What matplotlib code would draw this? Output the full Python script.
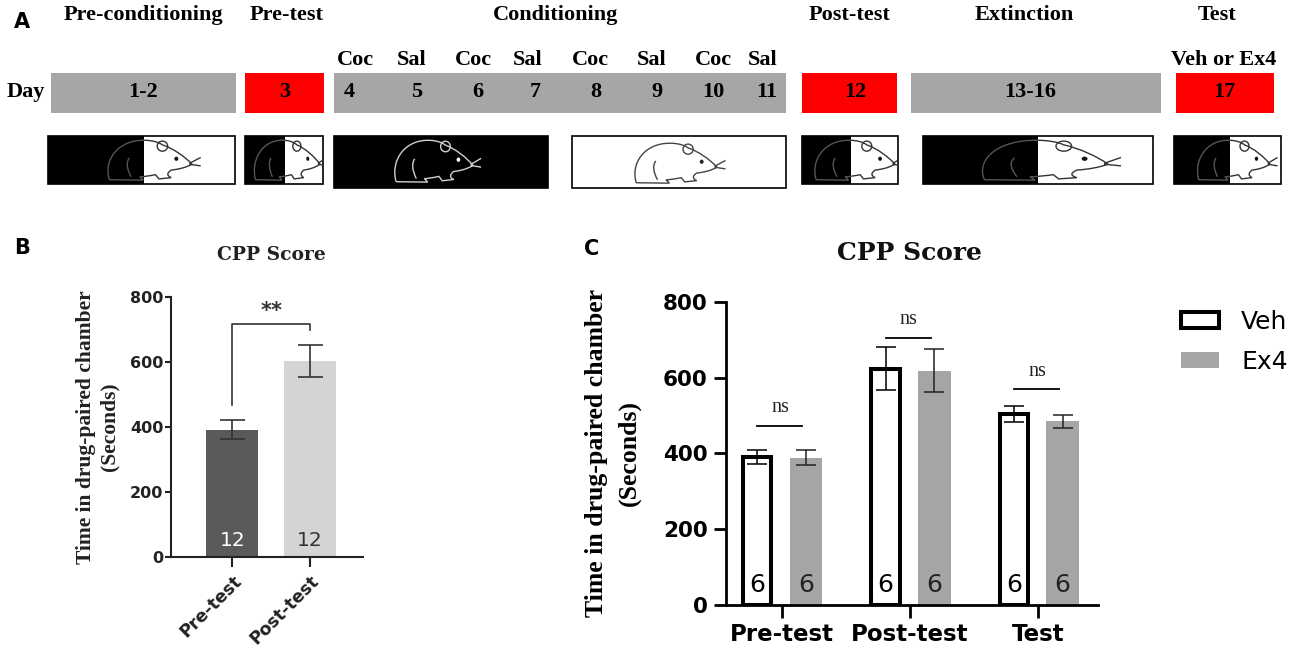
import matplotlib
matplotlib.use('Agg')
import matplotlib.pyplot as plt
from matplotlib.patches import Rectangle, Ellipse, PathPatch, Patch
from matplotlib.path import Path
import numpy as np

# ---------------- Data ----------------
# Panel B
b_categories = ['Pre-test', 'Post-test']
b_means = [392, 603]
b_sems = [29, 50]
b_n = ['12', '12']
b_sig = '**'

# Panel C
c_categories = ['Pre-test', 'Post-test', 'Test']
c_groups = ['Veh', 'Ex4']
c_veh_means = [391, 623, 503]
c_veh_sems = [19, 57, 21]
c_ex4_means = [389, 618, 485]
c_ex4_sems = [20, 57, 17]
c_veh_n = ['6', '6', '6']
c_ex4_n = ['6', '6', '6']
c_sig = ['ns', 'ns', 'ns']
c_sig_level = [473, 705, 569]

# Panel A timeline
phase_names = ['Pre-conditioning', 'Pre-test', 'Conditioning', 'Post-test', 'Extinction', 'Test']
phase_days = ['1-2', '3', '', '12', '13-16', '17']
cond_days = ['4', '5', '6', '7', '8', '9', '10', '11']
cond_treat = ['Coc', 'Sal', 'Coc', 'Sal', 'Coc', 'Sal', 'Coc', 'Sal']
test_treat = 'Veh or Ex4'

# ---------------- Layout (pixels) ----------------
W, H = 1300, 652
fig = plt.figure(figsize=(W / 100, H / 100), dpi=100)
fig.patch.set_facecolor('white')

def fx(x):
    return x / W

def fy(y):
    return 1 - y / H

SERIF = 'Liberation Serif'
SANS = 'DejaVu Sans'
GRAY = '#a6a6a6'
RED = '#ff0000'

# ---------------- Panel A ----------------
axa = fig.add_axes([0, 1 - 200 / H, 1, 200 / H])
axa.set_xlim(0, W)
axa.set_ylim(200, 0)
axa.axis('off')

title_x = [143, 287, 556, 850, 1024, 1217]
bar_spans = [(51, 236), (245, 324), (334, 786), (802, 897), (911, 1161), (1176, 1274)]
bar_colors = [GRAY, RED, GRAY, RED, GRAY, RED]
day_x = [143, 284.5, None, 855, 1030, 1224]
cond_day_x = [349, 417, 478, 535, 596, 657, 713, 767]
cond_treat_x = [355, 412, 473, 528, 590, 652, 713, 763]

afont = dict(family=SERIF, fontweight='bold', fontsize=16, color='black')
for name, x in zip(phase_names, title_x):
    axa.text(x, 15, name, ha='center', va='center', **afont)
for (x0, x1), col in zip(bar_spans, bar_colors):
    axa.add_patch(Rectangle((x0, 73), x1 - x0, 40, facecolor=col, edgecolor='none'))
for lab, x in zip(phase_days, day_x):
    if x is not None and lab:
        axa.text(x, 92, lab, ha='center', va='center', **afont)
for lab, x in zip(cond_days, cond_day_x):
    axa.text(x, 92, lab, ha='center', va='center', **afont)
for lab, x in zip(cond_treat, cond_treat_x):
    axa.text(x, 60, lab, ha='center', va='center', **afont)
axa.text(1224, 60, test_treat, ha='center', va='center', **afont)
axa.text(26, 92, 'Day', ha='center', va='center', **afont)

# mouse sketch (normalised coordinates, v downward)
def mouse_paths():
    P = Path
    body = [((0.05, 0.97), P.MOVETO),
            ((-0.02, 0.5), P.CURVE4), ((0.15, 0.02), P.CURVE4), ((0.45, 0.03), P.CURVE4),
            ((0.55, 0.03), P.CURVE4), ((0.62, 0.08), P.CURVE4), ((0.66, 0.14), P.CURVE4),
            ((0.78, 0.22), P.CURVE4), ((0.92, 0.42), P.CURVE4), ((1.0, 0.60), P.CURVE4),
            ((0.93, 0.68), P.CURVE4), ((0.85, 0.72), P.CURVE4), ((0.76, 0.74), P.CURVE4),
            ((0.72, 0.80), P.CURVE4), ((0.70, 0.86), P.CURVE4), ((0.76, 0.92), P.CURVE4),
            ((0.62, 0.95), P.LINETO), ((0.58, 0.85), P.LINETO),
            ((0.50, 0.88), P.CURVE4), ((0.44, 0.90), P.CURVE4), ((0.40, 0.90), P.CURVE4),
            ((0.44, 0.98), P.LINETO), ((0.05, 0.97), P.LINETO)]
    leg = [((0.28, 0.45), P.MOVETO), ((0.22, 0.6), P.CURVE3), ((0.30, 0.9), P.CURVE3)]
    whisk = [((0.97, 0.58), P.MOVETO), ((1.10, 0.44), P.LINETO),
             ((0.97, 0.60), P.MOVETO), ((1.10, 0.64), P.LINETO)]
    return [body, leg, whisk]

def draw_mouse(ax, x0, x1, y0, y1, color, eye_color, clip=None):
    def tr(u, v):
        return (x0 + u * (x1 - x0), y0 + v * (y1 - y0))
    arts = []
    for segs in mouse_paths():
        verts = [tr(u, v) for (u, v), c in segs]
        codes = [c for _, c in segs]
        arts.append(PathPatch(Path(verts, codes), facecolor='none', edgecolor=color, lw=1.0))
    ex, ey = tr(0.66, 0.17)
    arts.append(Ellipse((ex, ey), 0.12 * (x1 - x0), 0.24 * (y1 - y0), facecolor='none', edgecolor=color, lw=1.0))
    ex, ey = tr(0.82, 0.47)
    arts.append(Ellipse((ex, ey), 0.045 * (x1 - x0), 0.1 * (y1 - y0), facecolor=eye_color, edgecolor='none'))
    for a in arts:
        ax.add_patch(a)
        if clip is not None:
            a.set_clip_path(clip)

boxes = [(48, 235, 136, 184, 144, 'split', 105, 192),
         (245, 323, 136, 184, 285, 'split', 252, 320),
         (334, 548, 136, 188, None, 'black', 392, 473),
         (572, 786, 136, 188, None, 'white', 632, 717),
         (802, 898, 136, 184, 851, 'split', 812, 895),
         (923, 1153, 136, 184, 1038, 'split', 978, 1108),
         (1174, 1281, 136, 184, 1230, 'split', 1195, 1270)]
for x0, x1, y0, y1, xs, kind, m0, m1 in boxes:
    if kind == 'black':
        axa.add_patch(Rectangle((x0, y0), x1 - x0, y1 - y0, facecolor='black', edgecolor='black', lw=1.2))
        draw_mouse(axa, m0, m1, y0 + 3, y1 - 5, '#d0d0d0', 'white')
    elif kind == 'white':
        axa.add_patch(Rectangle((x0, y0), x1 - x0, y1 - y0, facecolor='white', edgecolor='black', lw=1.2))
        draw_mouse(axa, m0, m1, y0 + 6, y1 - 4, '#444444', '#222222')
    else:
        axa.add_patch(Rectangle((x0, y0), xs - x0, y1 - y0, facecolor='black', edgecolor='none'))
        axa.add_patch(Rectangle((x0, y0), x1 - x0, y1 - y0, facecolor='none', edgecolor='black', lw=1.2))
        cl = Rectangle((x0, y0), xs - x0, y1 - y0, transform=axa.transData, facecolor='none')
        cr = Rectangle((xs, y0), x1 - xs, y1 - y0, transform=axa.transData, facecolor='none')
        draw_mouse(axa, m0, m1, y0 + 3, y1 - 3, '#555555', '#555555', clip=cl)
        draw_mouse(axa, m0, m1, y0 + 3, y1 - 3, '#333333', '#111111', clip=cr)

# ---------------- Panel B ----------------
axb = fig.add_axes([fx(171), fy(557), (363 - 171) / W, (557 - 297) / H])
xb = np.arange(len(b_categories))
axb.bar(xb, b_means, width=0.67, color=['#5a5a5a', '#d4d4d4'], edgecolor='none', zorder=2)
axb.errorbar(xb, b_means, yerr=b_sems, fmt='none', ecolor='#333333', elinewidth=1.2,
             capsize=9, capthick=1.2, zorder=3)
for x, n, c in zip(xb, b_n, ['white', '#333333']):
    axb.text(x, 52, n, ha='center', va='center', fontsize=14.5, color=c, family=SANS)
# significance bracket
axb.plot([xb[0], xb[0], xb[1], xb[1]], [468, 717, 717, 700], color='#333333', lw=1.2, zorder=3)
axb.text((xb[0] + xb[1]) / 2, 757, b_sig, ha='center', va='center', fontsize=15,
         fontweight='bold', color='#333333', family=SANS)
axb.set_xlim(-0.79, 1.68)
axb.set_ylim(0, 800)
axb.set_yticks([0, 200, 400, 600, 800])
axb.set_xticks(xb)
axb.set_xticklabels(b_categories, rotation=45, ha='right', rotation_mode='anchor',
                    fontsize=12.5, fontweight='bold', family=SANS)
for lab in axb.get_yticklabels():
    lab.set_fontsize(11.5)
    lab.set_fontweight('bold')
    lab.set_family(SANS)
for s in ['top', 'right']:
    axb.spines[s].set_visible(False)
for s in ['left', 'bottom']:
    axb.spines[s].set_linewidth(1.5)
    axb.spines[s].set_color('#222222')
axb.tick_params(axis='y', length=4, width=1.5, pad=1.5, colors='#222222')
axb.tick_params(axis='x', length=7, width=1.5, pad=4, colors='#222222')
fig.text(fx(271), fy(255), 'CPP Score', ha='center', va='center', fontsize=13.5,
         fontweight='bold', family='DejaVu Serif', color='#222222')
fig.text(fx(97.5), fy(427), 'Time in drug-paired chamber\n(Seconds)', rotation=90,
         ha='center', va='center', fontsize=15.5, fontweight='bold', family=SERIF,
         linespacing=1.25, color='#222222')

# ---------------- Panel C ----------------
axc = fig.add_axes([fx(725.7), fy(605), (1098 - 725.7) / W, (605 - 301.7) / H])
xc = np.arange(len(c_categories))
off = 0.19
axc.bar(xc - off, c_veh_means, width=0.22, facecolor='white', edgecolor='black', lw=2.9,
        zorder=2, label=c_groups[0])
axc.bar(xc + off, c_ex4_means, width=0.255, facecolor='#a5a5a5', edgecolor='none',
        zorder=2, label=c_groups[1])
axc.errorbar(xc - off, c_veh_means, yerr=c_veh_sems, fmt='none', ecolor='black',
             elinewidth=1.1, capsize=7, capthick=1.1, zorder=3)
axc.errorbar(xc + off, c_ex4_means, yerr=c_ex4_sems, fmt='none', ecolor='#222222',
             elinewidth=1.1, capsize=7, capthick=1.1, zorder=3)
for x, n in zip(xc - off, c_veh_n):
    axc.text(x, 53, n, ha='center', va='center', fontsize=18, color='black', family=SANS, zorder=4)
for x, n in zip(xc + off, c_ex4_n):
    axc.text(x, 53, n, ha='center', va='center', fontsize=18, color='#222222', family=SANS, zorder=4)
for x, s, yv in zip(xc, c_sig, c_sig_level):
    axc.plot([x - 0.19, x + 0.16], [yv, yv], color='black', lw=1.3)
    axc.text(x - 0.01, yv + 47, s, ha='center', va='center', fontsize=14.5,
             family=SERIF, color='#222222')
axc.set_xlim(-0.436, 2.465)
axc.set_ylim(0, 800)
axc.set_yticks([0, 200, 400, 600, 800])
axc.set_xticks(xc)
axc.set_xticklabels(c_categories, fontsize=16.5, fontweight='bold', family=SANS)
for lab in axc.get_yticklabels():
    lab.set_fontsize(15.5)
    lab.set_fontweight('bold')
    lab.set_family(SANS)
for s in ['top', 'right']:
    axc.spines[s].set_visible(False)
for s in ['left', 'bottom']:
    axc.spines[s].set_linewidth(2)
axc.tick_params(axis='both', length=9, width=2, pad=4)
fig.text(fx(910), fy(253), 'CPP Score', ha='center', va='center', fontsize=18,
         fontweight='bold', family='DejaVu Serif', color='#111111')
fig.text(fx(613), fy(453), 'Time in drug-paired chamber\n(Seconds)', rotation=90,
         ha='center', va='center', fontsize=18.5, fontweight='bold', family=SERIF,
         linespacing=1.5)

handles = [Patch(facecolor='white', edgecolor='black', lw=2.9),
           Patch(facecolor='#a5a5a5', edgecolor='none')]
axc.legend(handles, c_groups, loc='center left', bbox_to_anchor=(fx(1181), fy(342)),
           bbox_transform=fig.transFigure, frameon=False, fontsize=18,
           handlelength=1.5, handleheight=0.6, handletextpad=0.9, labelspacing=0.65,
           borderpad=0, borderaxespad=0)

# panel letters
for lab, x, y in [('A', 22, 22), ('B', 22, 248), ('C', 592, 249)]:
    fig.text(fx(x), fy(y), lab, ha='center', va='center', fontsize=15, fontweight='bold',
             family=SANS)

fig.savefig('out.png', dpi=100, facecolor='white')
